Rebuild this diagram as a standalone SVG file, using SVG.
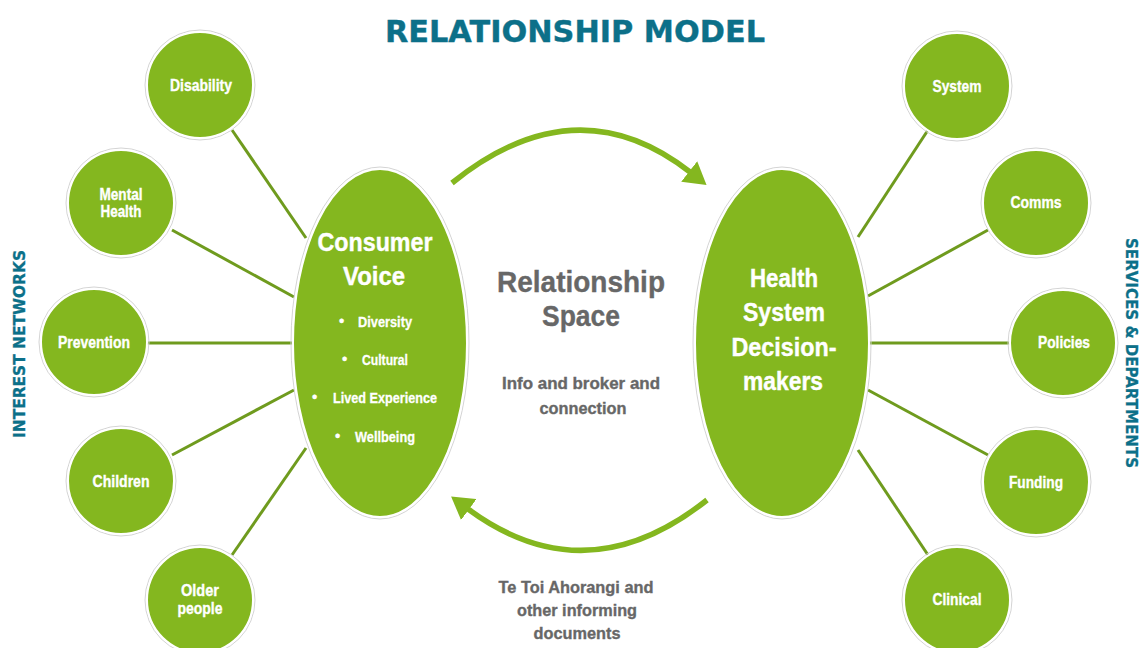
<svg xmlns="http://www.w3.org/2000/svg" width="1142" height="648" viewBox="0 0 1142 648">
<style>
.ring{fill:none;stroke:#d4d4d4;stroke-width:1}
.node{fill:#84b71f;stroke:#ffffff;stroke-width:2}
.lbl{font-family:"Liberation Sans",Arial,sans-serif;font-weight:bold;fill:#ffffff;stroke:#ffffff;stroke-width:0.35;text-anchor:middle;font-size:16px}
.big{font-family:"Liberation Sans",Arial,sans-serif;font-weight:bold;fill:#ffffff;stroke:#ffffff;stroke-width:0.4;text-anchor:middle;font-size:26px}
.item{font-family:"Liberation Sans",Arial,sans-serif;font-weight:bold;fill:#ffffff;stroke:#ffffff;stroke-width:0.3;font-size:15px}
.gray{font-family:"Liberation Sans",Arial,sans-serif;font-weight:bold;fill:#676767;stroke:#676767;stroke-width:0.35;text-anchor:middle}
.side{font-family:"DejaVu Sans",Verdana,sans-serif;font-weight:bold;fill:#0c7089;stroke:#0c7089;stroke-width:0.3;font-size:16px;text-anchor:middle}
.link{stroke:#6f9b1e;stroke-width:3;fill:none}
.arc{stroke:#84b71f;stroke-width:5.5;fill:none}
</style>
<defs>
<marker id="head" markerUnits="userSpaceOnUse" markerWidth="22" markerHeight="26" viewBox="0 0 22 26" refX="1" refY="13" orient="auto">
<path d="M0,0 L22,13 L0,26 Z" fill="#84b71f"/>
</marker>
</defs>
<rect width="1142" height="648" fill="#ffffff"/>
<text x="575" y="42" font-family="DejaVu Sans,Verdana,sans-serif" font-weight="bold" font-size="31" fill="#0c7089" stroke="#0c7089" stroke-width="0.4" text-anchor="middle" textLength="380" lengthAdjust="spacingAndGlyphs">RELATIONSHIP MODEL</text>
<text class="side" transform="translate(25,344) rotate(-90)" textLength="188" lengthAdjust="spacingAndGlyphs">INTEREST NETWORKS</text>
<text class="side" transform="translate(1126,353) rotate(90)" textLength="230" lengthAdjust="spacingAndGlyphs">SERVICES &amp; DEPARTMENTS</text>
<g id="connectors">
<line class="link" x1="232" y1="130" x2="306" y2="238"/>
<line class="link" x1="172" y1="230" x2="294" y2="297"/>
<line class="link" x1="147" y1="343" x2="294" y2="343"/>
<line class="link" x1="172" y1="455" x2="294" y2="390"/>
<line class="link" x1="232" y1="555" x2="306" y2="448"/>
<line class="link" x1="928" y1="130" x2="858" y2="237"/>
<line class="link" x1="988" y1="230" x2="868" y2="296"/>
<line class="link" x1="1010" y1="343" x2="868" y2="343"/>
<line class="link" x1="988" y1="455" x2="868" y2="390"/>
<line class="link" x1="928" y1="555" x2="858" y2="450"/>
<path class="arc" d="M452,183 Q576,83 690,172" marker-end="url(#head)"/>
<path class="arc" d="M707,500 Q586,596 468,509" marker-end="url(#head)"/>
</g>
<g id="consumer-voice">
<ellipse class="ring" cx="380" cy="343" rx="89" ry="176"/>
<ellipse class="node" cx="380" cy="343" rx="87" ry="174"/>
<text class="big" x="375" y="251" textLength="115" lengthAdjust="spacingAndGlyphs">Consumer</text>
<text class="big" x="374" y="285" textLength="62" lengthAdjust="spacingAndGlyphs">Voice</text>
<text class="item" x="339" y="326">•</text><text class="item" x="358" y="327" textLength="54" lengthAdjust="spacingAndGlyphs">Diversity</text>
<text class="item" x="342" y="364">•</text><text class="item" x="362" y="365" textLength="46" lengthAdjust="spacingAndGlyphs">Cultural</text>
<text class="item" x="312" y="402">•</text><text class="item" x="333" y="403" textLength="104" lengthAdjust="spacingAndGlyphs">Lived Experience</text>
<text class="item" x="335" y="441">•</text><text class="item" x="355" y="442" textLength="60" lengthAdjust="spacingAndGlyphs">Wellbeing</text>
</g>
<g id="health-system">
<ellipse class="ring" cx="782" cy="343" rx="89" ry="176"/>
<ellipse class="node" cx="782" cy="343" rx="87" ry="174"/>
<text class="big" x="784" y="287" textLength="68" lengthAdjust="spacingAndGlyphs">Health</text>
<text class="big" x="784" y="321" textLength="82" lengthAdjust="spacingAndGlyphs">System</text>
<text class="big" x="784" y="356" textLength="105" lengthAdjust="spacingAndGlyphs">Decision-</text>
<text class="big" x="783" y="390" textLength="80" lengthAdjust="spacingAndGlyphs">makers</text>
</g>
<g id="relationship-space">
<text class="gray" x="581" y="292" font-size="29" textLength="168" lengthAdjust="spacingAndGlyphs">Relationship</text>
<text class="gray" x="581" y="326" font-size="29" textLength="78" lengthAdjust="spacingAndGlyphs">Space</text>
<text class="gray" x="581" y="389" font-size="17" textLength="158" lengthAdjust="spacingAndGlyphs">Info and broker and</text>
<text class="gray" x="583" y="414" font-size="17" textLength="87" lengthAdjust="spacingAndGlyphs">connection</text>
</g>
<g id="informing-docs">
<text class="gray" x="576" y="593" font-size="17" textLength="155" lengthAdjust="spacingAndGlyphs">Te Toi Ahorangi and</text>
<text class="gray" x="577" y="616" font-size="17" textLength="120" lengthAdjust="spacingAndGlyphs">other informing</text>
<text class="gray" x="577" y="639" font-size="17" textLength="87" lengthAdjust="spacingAndGlyphs">documents</text>
</g>
<g id="disability"><circle class="ring" cx="200" cy="85" r="55"/><circle class="node" cx="200" cy="85" r="53"/><text class="lbl" x="201" y="91" textLength="62" lengthAdjust="spacingAndGlyphs">Disability</text></g>
<g id="mental-health"><circle class="ring" cx="121" cy="203" r="55"/><circle class="node" cx="121" cy="203" r="53"/><text class="lbl" x="121" y="200" textLength="43" lengthAdjust="spacingAndGlyphs">Mental</text><text class="lbl" x="121" y="217" textLength="41" lengthAdjust="spacingAndGlyphs">Health</text></g>
<g id="prevention"><circle class="ring" cx="94" cy="342" r="55"/><circle class="node" cx="94" cy="342" r="53"/><text class="lbl" x="94" y="348" textLength="72" lengthAdjust="spacingAndGlyphs">Prevention</text></g>
<g id="children"><circle class="ring" cx="121" cy="481" r="55"/><circle class="node" cx="121" cy="481" r="53"/><text class="lbl" x="121" y="487" textLength="57" lengthAdjust="spacingAndGlyphs">Children</text></g>
<g id="older-people"><circle class="ring" cx="200" cy="600" r="55"/><circle class="node" cx="200" cy="600" r="53"/><text class="lbl" x="200" y="596" textLength="38" lengthAdjust="spacingAndGlyphs">Older</text><text class="lbl" x="200" y="614" textLength="45" lengthAdjust="spacingAndGlyphs">people</text></g>
<g id="system"><circle class="ring" cx="957" cy="86" r="55"/><circle class="node" cx="957" cy="86" r="53"/><text class="lbl" x="957" y="92" textLength="49" lengthAdjust="spacingAndGlyphs">System</text></g>
<g id="comms"><circle class="ring" cx="1036" cy="203" r="55"/><circle class="node" cx="1036" cy="203" r="53"/><text class="lbl" x="1036" y="208" textLength="51" lengthAdjust="spacingAndGlyphs">Comms</text></g>
<g id="policies"><circle class="ring" cx="1063" cy="343" r="55"/><circle class="node" cx="1063" cy="343" r="53"/><text class="lbl" x="1064" y="348" textLength="52" lengthAdjust="spacingAndGlyphs">Policies</text></g>
<g id="funding"><circle class="ring" cx="1036" cy="482" r="55"/><circle class="node" cx="1036" cy="482" r="53"/><text class="lbl" x="1036" y="488" textLength="54" lengthAdjust="spacingAndGlyphs">Funding</text></g>
<g id="clinical"><circle class="ring" cx="957" cy="600" r="55"/><circle class="node" cx="957" cy="600" r="53"/><text class="lbl" x="957" y="605" textLength="49" lengthAdjust="spacingAndGlyphs">Clinical</text></g>
</svg>
